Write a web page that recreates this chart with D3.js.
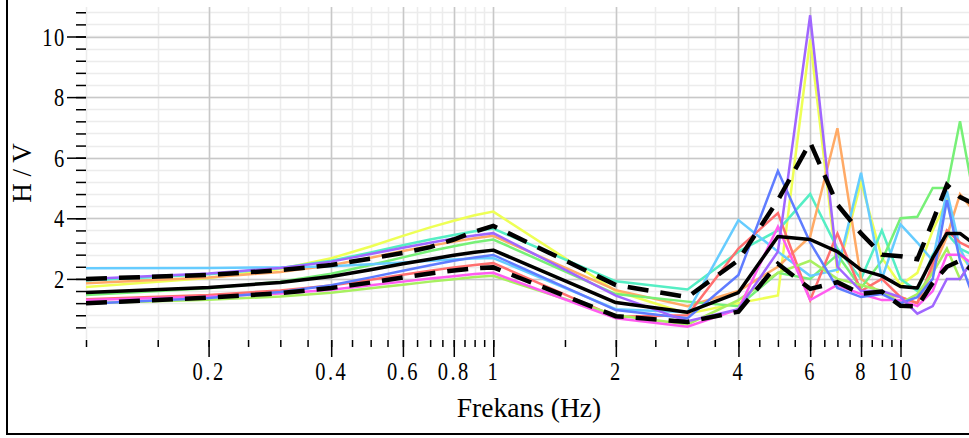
<!DOCTYPE html>
<html>
<head>
<meta charset="utf-8">
<script src="https://cdn.jsdelivr.net/npm/d3@7"></script>
<style>
  body { margin: 0; background: #fff; }
  svg { display: block; }
  svg text { font-family: "Liberation Serif", "Times New Roman", serif !important; fill: #000; }
</style>
</head>
<body>
<div id="chart"></div>
<script>
// frequencies (Hz) shared by all curves
var freqs = [0.1, 0.2, 0.3, 0.4, 0.5, 0.6, 0.7, 0.8, 0.9, 1, 2, 3, 4, 5, 6, 7, 8, 9, 10, 11, 12, 13, 14, 15];

// single station H/V curves
var hvYellow  = [1.73, 2.03, 2.33, 2.68, 3.07, 3.42, 3.7, 3.92, 4.1, 4.22, 1.6, 0.85, 1.2, 1.45, 9.9, 2.2, 5.2, 2.7, 1.8, 2.2, 3.6, 4.6, 2.8, 2.3];
var hvAqua    = [1.95, 2.15, 2.36, 2.6, 2.87, 3.11, 3.3, 3.45, 3.57, 3.66, 1.92, 1.65, 2.9, 3.6, 4.8, 3.0, 2.0, 3.6, 2.0, 1.6, 2.8, 3.5, 3.0, 2.8];
var hvOrange  = [1.86, 2.05, 2.23, 2.45, 2.7, 2.92, 3.09, 3.23, 3.34, 3.42, 1.63, 1.1, 1.6, 2.4, 3.4, 6.97, 2.0, 1.5, 1.4, 1.2, 2.3, 3.4, 4.8, 4.3];
var hvGreen   = [1.47, 1.69, 1.91, 2.17, 2.46, 2.71, 2.92, 3.08, 3.21, 3.3, 1.5, 1.25, 1.1, 2.2, 2.0, 2.8, 1.7, 2.6, 4.0, 4.05, 5.0, 5.0, 7.2, 5.0];
var hvBlue    = [1.18, 1.37, 1.57, 1.79, 2.05, 2.27, 2.45, 2.6, 2.71, 2.79, 0.97, 0.7, 2.13, 5.56, 3.2, 1.7, 1.4, 1.5, 1.2, 1.4, 2.0, 4.6, 2.6, 1.5];
var hvSky     = [2.35, 2.36, 2.38, 2.42, 2.48, 2.54, 2.6, 2.64, 2.67, 2.69, 1.0, 0.9, 3.94, 2.9, 2.1, 2.3, 5.5, 2.0, 3.8, 3.2, 2.6, 4.9, 3.0, 2.2];
var hvRed     = [1.33, 1.47, 1.62, 1.78, 1.97, 2.14, 2.27, 2.38, 2.46, 2.52, 0.75, 0.8, 3.0, 4.17, 1.3, 3.5, 1.6, 2.0, 1.4, 1.2, 2.5, 3.6, 3.2, 3.0];
var hvMagenta = [1.3, 1.41, 1.52, 1.64, 1.79, 1.91, 2.01, 2.09, 2.16, 2.2, 0.7, 0.42, 1.0, 3.72, 1.3, 1.8, 1.5, 1.3, 1.3, 1.1, 1.6, 2.8, 2.8, 2.5];
var hvLime    = [1.2, 1.31, 1.42, 1.54, 1.69, 1.81, 1.91, 1.99, 2.06, 2.1, 0.8, 0.5, 1.3, 2.2, 2.6, 2.0, 1.8, 1.6, 1.2, 1.5, 2.2, 3.0, 2.0, 2.6];
var hvPurple  = [2.0, 2.18, 2.36, 2.57, 2.82, 3.03, 3.19, 3.33, 3.43, 3.51, 1.45, 0.6, 1.0, 2.9, 10.7, 2.4, 1.6, 1.6, 1.4, 0.85, 1.1, 2.0, 2.0, 2.6];

// average curve and +/- std curves
var hvMean  = [1.55, 1.72, 1.88, 2.08, 2.3, 2.5, 2.65, 2.78, 2.88, 2.95, 1.22, 0.9, 1.55, 3.4, 3.3, 2.9, 2.3, 2.1, 1.75, 1.7, 2.7, 3.5, 3.5, 3.2];
var hvUpper = [2.0, 2.13, 2.29, 2.46, 2.67, 2.86, 3.05, 3.3, 3.56, 3.75, 1.8, 1.4, 2.62, 4.6, 6.5, 4.45, 3.5, 2.8, 2.75, 2.65, 3.9, 5.1, 4.7, 4.5];
var hvLower = [1.2, 1.38, 1.53, 1.7, 1.88, 2.05, 2.18, 2.28, 2.35, 2.38, 0.77, 0.58, 0.92, 2.5, 1.67, 1.89, 1.51, 1.58, 1.11, 1.09, 1.87, 2.4, 2.6, 2.28];

// tick labels
var xLabelTicks = [0.2, 0.4, 0.6, 0.8, 1, 2, 4, 6, 8, 10];
var yLabelTicks = [2, 4, 6, 8, 10];

var curves = [
    { values: hvYellow,  color: "#eeff55" },
    { values: hvAqua,    color: "#55eec4" },
    { values: hvOrange,  color: "#ffaa66" },
    { values: hvGreen,   color: "#77f077" },
    { values: hvSky,     color: "#66ccff" },
    { values: hvRed,     color: "#ff6f6f" },
    { values: hvLime,    color: "#a8f060" },
    { values: hvMagenta, color: "#ff5cf0" },
    { values: hvBlue,    color: "#5f7cff" },
    { values: hvPurple,  color: "#a066ff" }
];

var W = 969, H = 438;
var left = 86, bottom = 339.5;
var serif = "'Liberation Serif', 'Times New Roman', serif";

var svg = d3.select("#chart")
    .append("svg")
    .attr("width", W)
    .attr("height", H);

var x = d3.scaleLog().domain([0.1, 10]).range([left, 900.5]);
var y = d3.scaleLinear().domain([0, 11]).range([bottom, 6.2]);

// minor tick positions
var xMinor = d3.range(0.1, 1.0001, 0.05).concat(d3.range(1.5, 10.0001, 0.5));
var yMinor = d3.range(0.4, 10.9, 0.4);

// grid
var grid = svg.append("g");
grid.selectAll(".hg").data(yMinor).enter().append("line")
    .attr("x1", left).attr("x2", W)
    .attr("y1", d => Math.round(y(d)) + 0.5).attr("y2", d => Math.round(y(d)) + 0.5)
    .attr("stroke", "#ececec").attr("stroke-width", 1.5);
grid.selectAll(".vg").data(xMinor).enter().append("line")
    .attr("x1", d => Math.round(x(d)) + 0.5).attr("x2", d => Math.round(x(d)) + 0.5)
    .attr("y1", 7).attr("y2", bottom)
    .attr("stroke", "#ececec").attr("stroke-width", 1.5);
grid.selectAll(".hgm").data(yLabelTicks).enter().append("line")
    .attr("x1", left).attr("x2", W)
    .attr("y1", d => Math.round(y(d)) + 0.5).attr("y2", d => Math.round(y(d)) + 0.5)
    .attr("stroke", "#c8c8c8").attr("stroke-width", 1.5);
grid.selectAll(".vgm").data(xLabelTicks).enter().append("line")
    .attr("x1", d => Math.round(x(d)) + 0.5).attr("x2", d => Math.round(x(d)) + 0.5)
    .attr("y1", 7).attr("y2", bottom)
    .attr("stroke", "#c8c8c8").attr("stroke-width", 1.5);

// clip for the curves
svg.append("clipPath").attr("id", "plotclip")
    .append("rect").attr("x", left).attr("y", 0).attr("width", W - left).attr("height", bottom);

var line = d3.line()
    .x(function (d, i) { return x(freqs[i]); })
    .y(function (d) { return y(d); });

var plot = svg.append("g").attr("clip-path", "url(#plotclip)");

plot.selectAll(".curve")
    .data(curves)
    .enter().append("path")
    .attr("fill", "none")
    .attr("stroke", d => d.color)
    .attr("stroke-width", 2.5)
    .attr("d", d => line(d.values));

plot.append("path")
    .datum(hvUpper)
    .attr("fill", "none")
    .attr("stroke", "#000")
    .attr("stroke-width", 4.5)
    .attr("stroke-dasharray", "21,12")
    .attr("d", line);

plot.append("path")
    .datum(hvLower)
    .attr("fill", "none")
    .attr("stroke", "#000")
    .attr("stroke-width", 4.5)
    .attr("stroke-dasharray", "21,12")
    .attr("d", line);

plot.append("path")
    .datum(hvMean)
    .attr("fill", "none")
    .attr("stroke", "#000")
    .attr("stroke-width", 3.5)
    .attr("stroke-linejoin", "round")
    .attr("d", line);

// x axis: minor ticks, then labelled ticks
svg.append("g")
    .attr("transform", "translate(0," + Math.round(bottom) + ")")
    .call(d3.axisBottom(x).tickValues(xMinor).tickSize(7).tickFormat(""))
    .call(g => g.select(".domain").remove());

var xAxis = svg.append("g")
    .attr("transform", "translate(0," + Math.round(bottom) + ")")
    .call(d3.axisBottom(x).tickValues(xLabelTicks).tickSize(17).tickPadding(5).tickFormat(d3.format("~g")))
    .call(g => g.select(".domain").remove());

// y axis
svg.append("g")
    .attr("transform", "translate(" + left + ",0)")
    .call(d3.axisLeft(y).tickValues(yMinor).tickSize(10).tickFormat(""))
    .call(g => g.select(".domain").remove());

var yAxis = svg.append("g")
    .attr("transform", "translate(" + left + ",0)")
    .call(d3.axisLeft(y).tickValues(yLabelTicks).tickSize(19).tickFormat(d3.format("d")))
    .call(g => g.select(".domain").remove());

svg.selectAll(".tick line").attr("stroke", "#000").attr("stroke-width", 1.5);
svg.selectAll("g").attr("font-family", null);

xAxis.selectAll("text")
    .style("font-family", serif)
    .style("font-size", "25px")
    .style("letter-spacing", "3px")
    .attr("transform", "scale(0.82,1)");

yAxis.selectAll("text")
    .style("font-family", serif)
    .style("font-size", "25px")
    .style("letter-spacing", "2px")
    .attr("x", 0)
    .attr("dy", "0.34em")
    .attr("transform", "translate(-20,0) scale(0.82,1)");

// axis titles
svg.append("text")
    .attr("x", 529)
    .attr("y", 417)
    .attr("text-anchor", "middle")
    .style("font-family", serif)
    .style("font-size", "27.5px")
    .text("Frekans (Hz)");

svg.append("text")
    .attr("transform", "translate(31,173) rotate(-90)")
    .attr("text-anchor", "middle")
    .style("font-family", serif)
    .style("font-size", "27px")
    .text("H / V");

// frame (left and bottom edges visible)
svg.append("line").attr("x1", 7).attr("x2", 7).attr("y1", 0).attr("y2", 435)
    .attr("stroke", "#000").attr("stroke-width", 2);
svg.append("line").attr("x1", 6).attr("x2", W).attr("y1", 434).attr("y2", 434)
    .attr("stroke", "#000").attr("stroke-width", 2);
</script>
</body>
</html>
